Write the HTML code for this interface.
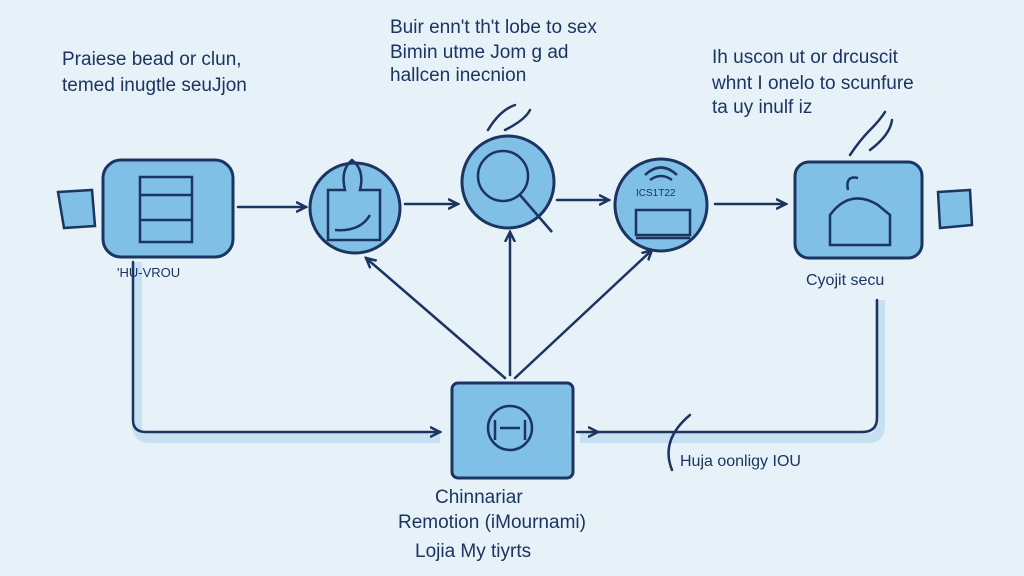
<!DOCTYPE html><html><head><style>
body{margin:0;width:1024px;height:576px;background:#e7f1f8;overflow:hidden;font-family:"Liberation Sans",sans-serif;color:#1b3560}
.t{position:absolute;font-size:19px;white-space:nowrap;line-height:1}
</style></head><body>
<svg width="1024" height="576" style="position:absolute;left:0;top:0">
<defs><marker id="a" markerWidth="12" markerHeight="12" refX="10" refY="6" orient="auto" markerUnits="userSpaceOnUse"><path d="M0,1 L10,6 L0,11" fill="none" stroke="#1b3560" stroke-width="2.5"/></marker></defs>
<g stroke="#bfdcef" stroke-width="10" fill="none" opacity=".8">
<path d="M137,262 V425 Q137,438 150,438 H440"/><path d="M580,438 H870 Q880,438 880,425 V300"/>
</g>
<g stroke="#1b3560" stroke-width="2.5" fill="none" stroke-linecap="round">
<path d="M133,262 V420 Q133,432 146,432 H440" marker-end="url(#a)"/>
<path d="M577,432 H598" marker-end="url(#a)"/>
<path d="M598,432 H862 Q877,432 877,418 V300"/>
<path d="M238,207 H306" marker-end="url(#a)"/>
<path d="M405,204 H458" marker-end="url(#a)"/>
<path d="M557,200 H609" marker-end="url(#a)"/>
<path d="M715,204 H786" marker-end="url(#a)"/>
<path d="M505,378 L366,258" marker-end="url(#a)"/>
<path d="M510,375 V232" marker-end="url(#a)"/>
<path d="M515,378 L652,250" marker-end="url(#a)"/>
<path d="M672,470 Q660,440 690,415" /><path d="M488,130 Q500,110 515,105 M505,130 Q525,120 530,110"/>
<path d="M850,155 Q860,140 870,130 Q880,120 885,112 M870,150 Q890,135 892,120"/>
</g>
<g fill="#80c0e6" stroke="#1b3560" stroke-width="3">
<path d="M58,192 L92,190 L95,226 L64,228 Z" stroke-width="2.5"/>
<path d="M938,192 L970,190 L972,225 L940,228 Z" stroke-width="2.5"/>
<rect x="103" y="160" width="130" height="97" rx="18"/>
<circle cx="355" cy="208" r="45"/>
<circle cx="508" cy="182" r="46"/>
<circle cx="661" cy="205" r="46"/>
<rect x="795" y="162" width="127" height="96" rx="14"/>
<rect x="452" y="383" width="121" height="95" rx="6"/>
</g>
<g stroke="#1b3560" stroke-width="2.5" fill="none">
<rect x="140" y="177" width="52" height="65"/><path d="M140,195H192M140,220H192"/>
<path d="M328,240 V190 H345 Q340,170 352,160 Q365,170 360,190 H380 V240 Z M335,230 Q360,232 370,215"/>
<circle cx="503" cy="176" r="25"/><path d="M520,195 L552,232"/>
<path d="M636,210H690V235H636Z M636,238H690" /><path d="M645,175 Q661,160 677,175 M650,180 Q661,172 672,180"/>
<path d="M830,245 V215 Q850,188 878,205 L890,215 V245 Z M848,190 Q845,175 858,178"/>
<circle cx="510" cy="428" r="22"/><path d="M495,440 V420 M525,440 V420 M500,428 H520"/>
</g>
<text x="636" y="196" font-size="10" fill="#1b3560" font-family="Liberation Sans">ICS1T22</text>
</svg>
<div class="t" style="left:62px;top:50px">Praiese bead or clun,</div>
<div class="t" style="left:62px;top:76px">temed inugtle seuJjon</div>
<div class="t" style="left:390px;top:18px">Buir enn't th't lobe to sex</div>
<div class="t" style="left:390px;top:43px">Bimin utme Jom g ad</div>
<div class="t" style="left:390px;top:66px">hallcen inecnion</div>
<div class="t" style="left:712px;top:48px">Ih uscon ut or drcuscit</div>
<div class="t" style="left:712px;top:74px">whnt I onelo to scunfure</div>
<div class="t" style="left:712px;top:98px">ta uy inulf iz</div>
<div class="t" style="left:117px;top:266px;font-size:13px">'HU-VROU</div>
<div class="t" style="left:806px;top:273px;font-size:16px">Cyojit secu</div>
<div class="t" style="left:680px;top:454px;font-size:16px">Huja oonligy IOU</div>
<div class="t" style="left:435px;top:488px">Chinnariar</div>
<div class="t" style="left:398px;top:513px">Remotion (iMournami)</div>
<div class="t" style="left:415px;top:542px">Lojia My tiyrts</div>
</body></html>
